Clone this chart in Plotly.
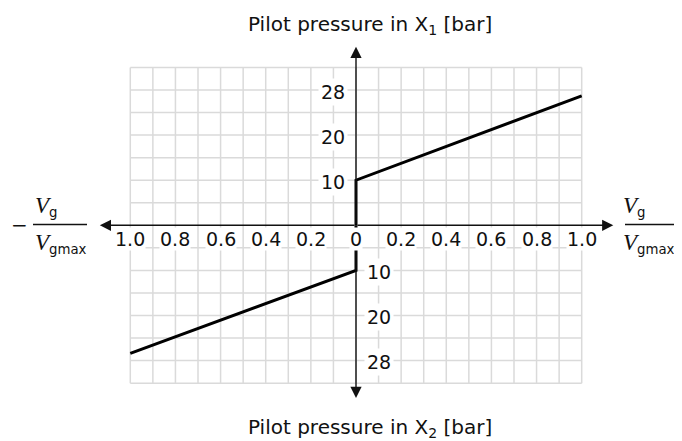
import plotly.graph_objects as go

# ---- data ----
ratio_x1 = [0.0, 0.0, 1.0]          # Vg/Vgmax, pilot pressure in X1 side
pressure_x1 = [0.0, 10.0, 28.7]      # bar
ratio_x2 = [0.0, 0.0, -1.0]         # -Vg/Vgmax, pilot pressure in X2 side
pressure_x2 = [0.0, 10.0, 28.4]      # bar (drawn downward)

x_tick_vals = [-1.0, -0.8, -0.6, -0.4, -0.2, 0.0, 0.2, 0.4, 0.6, 0.8, 1.0]
x_tick_text = ["1.0", "0.8", "0.6", "0.4", "0.2", "0", "0.2", "0.4", "0.6", "0.8", "1.0"]
y_tick_pos = [10, 20, 30]
y_tick_text = ["10", "20", "28"]

W, H = 682, 441
OFF = 8.0                      # page body margin
CX, CY = 356.0 - OFF, 225.3 - OFF   # figure pixel of origin
SX, SY = 225.7, 4.51           # px per unit

FONT = "DejaVu Sans"
INK = "#111111"
GRID = "#dadada"

fig = go.Figure()

shapes = []
for i in range(-10, 11):
    xv = i / 10
    shapes.append(dict(type="line", xref="x", yref="y", x0=xv, x1=xv, y0=-35, y1=35,
                       line=dict(color=GRID, width=1.5), layer="below"))
for j in range(-7, 8):
    if j == 0:
        continue
    yv = j * 5
    shapes.append(dict(type="line", xref="x", yref="y", x0=-1.0, x1=1.0, y0=yv, y1=yv,
                       line=dict(color=GRID, width=1.5), layer="below"))

fig.add_trace(go.Scatter(x=ratio_x1, y=pressure_x1, mode="lines",
                         line=dict(color="black", width=3), hoverinfo="skip", showlegend=False))
fig.add_trace(go.Scatter(x=ratio_x2, y=[-v for v in pressure_x2], mode="lines",
                         line=dict(color="black", width=3), hoverinfo="skip", showlegend=False))

ann = []
for (tx, ty) in [(-1.135, 0), (1.14, 0), (0, 39.6), (0, -38.3)]:
    ann.append(dict(x=tx, y=ty, ax=0, ay=0, xref="x", yref="y", axref="x", ayref="y",
                    showarrow=True, arrowhead=2, arrowsize=1.6, arrowwidth=1.4,
                    arrowcolor=INK, text=""))

TICKFONT = dict(family=FONT, size=19, color=INK)
for v, t in zip(x_tick_vals, x_tick_text):
    ann.append(dict(x=v, y=-3.1, xref="x", yref="y", text=t, showarrow=False,
                    font=TICKFONT, bgcolor="white", borderpad=0,
                    xanchor="center", yanchor="middle"))
for v, t in zip(y_tick_pos, y_tick_text):
    ann.append(dict(x=-0.1, y=v - 0.4, xref="x", yref="y", text=t, showarrow=False,
                    font=TICKFONT, bgcolor="white", borderpad=2,
                    xanchor="center", yanchor="middle"))
    ann.append(dict(x=0.1, y=-v - 0.4, xref="x", yref="y", text=t, showarrow=False,
                    font=TICKFONT, bgcolor="white", borderpad=2,
                    xanchor="center", yanchor="middle"))

def px(xp, yp):
    return (xp - OFF) / W, 1 - (yp - OFF) / H

for yp, t in [(25, "Pilot pressure in X<sub>1</sub> [bar]"), (428, "Pilot pressure in X<sub>2</sub> [bar]")]:
    xx, yy = px(370, yp)
    ann.append(dict(x=xx, y=yy, xref="paper", yref="paper", text=t, showarrow=False,
                    font=dict(family=FONT, size=20, color=INK), xanchor="center", yanchor="middle"))

VSPAN = "<span style='font-family:Liberation Serif;font-size:23px'><i>V</i></span>"
VG = VSPAN + "<sub>g</sub>"
VGM = VSPAN + "<sub>gmax</sub>"
FRACFONT = dict(family=FONT, size=19, color=INK)
for (xv, x0, x1) in [(33, 33, 87), (621, 625, 677)]:
    ann.append(dict(x=px(xv, 0)[0], y=px(0, 222)[1], xref="paper", yref="paper", text=VG,
                    showarrow=False, font=FRACFONT, xanchor="left", yanchor="bottom"))
    ann.append(dict(x=px(xv, 0)[0], y=px(0, 228)[1], xref="paper", yref="paper", text=VGM,
                    showarrow=False, font=FRACFONT, xanchor="left", yanchor="top"))
    shapes.append(dict(type="line", xref="paper", yref="paper",
                       x0=px(x0, 0)[0], x1=px(x1, 0)[0],
                       y0=px(0, 224.5)[1], y1=px(0, 224.5)[1], line=dict(color=INK, width=1.3)))
ann.append(dict(x=px(19, 0)[0], y=px(0, 225)[1], xref="paper", yref="paper", text="−",
                showarrow=False, font=dict(family=FONT, size=20, color=INK),
                xanchor="center", yanchor="middle"))

fig.update_layout(
    width=W, height=H, margin=dict(l=0, r=0, t=0, b=0),
    paper_bgcolor="white", plot_bgcolor="white",
    xaxis=dict(range=[-CX / SX, (W - CX) / SX], visible=False, fixedrange=True),
    yaxis=dict(range=[-(H - CY) / SY, CY / SY], visible=False, fixedrange=True),
    shapes=shapes, annotations=ann, showlegend=False,
)

fig.write_html("out.html")
